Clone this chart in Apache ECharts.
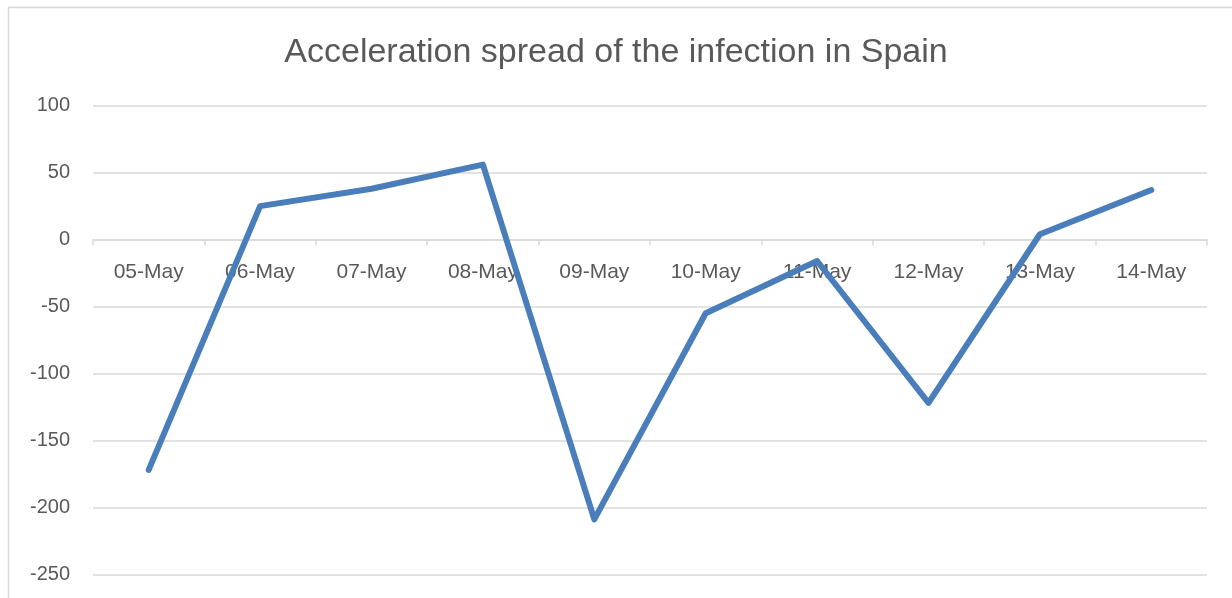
<!DOCTYPE html>
<html>
<head>
<meta charset="utf-8">
<script src="https://cdn.jsdelivr.net/npm/echarts@6/dist/echarts.min.js"></script>
<style>html,body{margin:0;padding:0;background:#fff;}#c{width:1232px;height:598px;}</style>
</head>
<body>
<div id="c"></div>
<script>
const titleText = "Acceleration spread of the infection in Spain";
const categories = ["05-May","06-May","07-May","08-May","09-May","10-May","11-May","12-May","13-May","14-May"];
const values = [-172, 25, 38, 56, -209, -55, -16, -122, 4, 37];
const yMin = -250, yMax = 100, yStep = 50;

const gridTop = 105.7, gridBottom = 23.7, H = 598;
const plotH = H - gridTop - gridBottom;
const zeroY = gridTop + (yMax - 0) / (yMax - yMin) * plotH;
const axisOffset = -((H - gridBottom) - zeroY);

const chart = echarts.init(document.getElementById('c'), null, {renderer: 'canvas'});
chart.setOption({
  animation: false,
  backgroundColor: '#ffffff',
  title: {
    text: titleText,
    left: 'center',
    top: 31,
    textStyle: {fontFamily: 'Liberation Sans', fontSize: 34, fontWeight: 'normal', color: '#595959'}
  },
  graphic: [{
    type: 'rect',
    shape: {x: 8.5, y: 7.5, width: 1400, height: 800},
    style: {fill: 'none', stroke: '#d9d9d9', lineWidth: 1.5},
    silent: true, z: -1
  }],
  grid: {left: 93, right: 25, top: gridTop, bottom: gridBottom, containLabel: false, outerBoundsMode: 'none'},
  xAxis: {
    type: 'category',
    data: categories,
    boundaryGap: true,
    position: 'bottom',
    offset: axisOffset,
    axisLine: {onZero: false, lineStyle: {color: '#d9d9d9', width: 1.5}},
    axisTick: {show: true, length: 6, alignWithLabel: false, lineStyle: {color: '#d9d9d9', width: 1.5}},
    axisLabel: {margin: 22, fontFamily: 'Liberation Sans', fontSize: 21, color: '#595959', interval: 0},
    splitLine: {show: false}
  },
  yAxis: {
    type: 'value',
    min: yMin, max: yMax, interval: yStep,
    axisLine: {show: false},
    axisTick: {show: false},
    axisLabel: {margin: 23, fontFamily: 'Liberation Sans', fontSize: 20, color: '#595959'},
    splitLine: {lineStyle: {color: '#d9d9d9', width: 1.5}}
  },
  series: [{
    type: 'line',
    data: values,
    symbol: 'none',
    lineStyle: {color: '#4a7ebb', width: 6, cap: 'round', join: 'round'},
    z: 3
  }]
});
</script>
</body>
</html>
